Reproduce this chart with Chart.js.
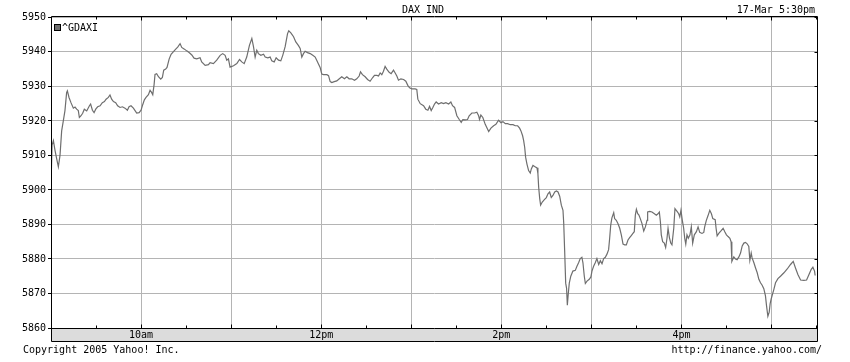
<!DOCTYPE html>
<html>
<head>
<meta charset="utf-8">
<title>DAX IND</title>
<script src="https://cdn.jsdelivr.net/npm/chart.js@4.4.1/dist/chart.umd.min.js"></script>
<style>
  body { margin: 0; background: #fff; }
  canvas { display: block; }
</style>
</head>
<body>
<canvas id="dax" width="850" height="362"></canvas>
<script>
// minutes after 9:00 and the index level at that time
var minutes = [
  0, 0.7, 1.6, 2.7, 3.8, 4.9, 6, 7.1, 8.2, 9.3, 10.4, 10.9, 12, 13.3, 14.9, 16, 17.1, 18.2, 18.9, 20,
  21.1, 22.2, 23.8, 25.6, 26.4, 27.6, 28.7, 29.8, 31.1, 32.7, 34.2, 35.6, 36.7, 38.2, 39.3, 40.4, 41.6, 43.1, 44.4, 46,
  47.6, 49.3, 50.9, 52, 53.3, 54.9, 56, 57.1, 58.7, 60, 61.1, 62.2, 63.3, 64.9, 66, 67.1, 67.8, 68.7, 69.3, 70.4,
  71.6, 73.1, 74.2, 75.1, 76.4, 77.3, 78.7, 80, 81.6, 83.1, 84.4, 86, 87.1, 88.9, 90.4, 92, 93.8, 95.3, 97.1, 99.3,
  100.4, 102.7, 104.9, 106, 108.2, 110.4, 112.7, 114.4, 116, 117.1, 118.2, 119.3, 121.6, 123.8, 125.6, 127.1, 128.7, 130.4, 132.2, 133.8,
  134.9, 136, 137.1, 138.2, 139.8, 141.6, 142.7, 144.4, 146, 147.1, 148.7, 150, 151.6, 153.1, 154.4, 156, 157.6, 158.4, 159.8, 161.6,
  163.1, 164.9, 166, 167.1, 168.2, 169.3, 170.9, 172.7, 174.4, 176, 177.1, 178.2, 179.3, 180.4, 181.6, 183.8, 184.9, 186, 187.1, 188.7,
  190.4, 191.5, 193.7, 195.5, 197.1, 198.6, 200.4, 202.2, 203.7, 205.3, 206.2, 207.5, 209.3, 210.9, 212.6, 214.2, 215.5, 217.1, 218.2, 219.3,
  220.4, 221.5, 222.6, 223.7, 225.3, 226.6, 228.2, 229.3, 230.4, 231.5, 233.1, 234.9, 236.4, 237.7, 238.9, 240.4, 242.6, 243.7, 244.4, 246,
  248.2, 249.7, 251.1, 252.2, 253.3, 254.4, 255.5, 256.6, 258.2, 260, 261.5, 263.1, 264.9, 266.4, 267.5, 268.9, 270.4, 272, 273.3, 274.4,
  276, 277.5, 278.6, 280.4, 282.2, 283.7, 284.9, 285.5, 286.4, 287.7, 289.3, 291.6, 293.1, 294.9, 296.4, 298.2, 299.8, 301.1, 302.7, 304.2,
  306, 307.8, 309.3, 310.9, 312.2, 313.1, 314.2, 314.9, 315.6, 316.2, 317.1, 318.2, 319.3, 320, 321.1, 322.2, 323.8, 324.4, 324.9, 325.6,
  326.2, 327.3, 328.7, 330, 331.1, 332.2, 333.3, 334.4, 335.6, 336.7, 337.8, 338.9, 340, 341.1, 341.6, 342.2, 342.9, 343.5, 344, 344.6,
  345.3, 346.3, 347.7, 349.3, 350.4, 351.5, 352.6, 353.7, 354.4, 355.3, 356, 357.1, 358.6, 359.7, 360.4, 361.5, 362.6, 363.7, 364.9, 366,
  367.1, 368.2, 369.3, 370.4, 371.5, 372.2, 372.9, 373.7, 374.9, 375.5, 376.6, 377.7, 378.9, 380, 381.1, 382.2, 383.3, 384.4, 385.5, 386.6,
  387.7, 388.6, 389.3, 390, 390.9, 391.7, 392.6, 393.7, 394.9, 396, 397.1, 397.5, 398.9, 400.4, 402, 403.3, 404.4, 405.3, 406, 406.6,
  407.5, 408.6, 409.5, 410.4, 411.1, 412, 412.9, 413.7, 414.9, 415.7, 417.1, 418.2, 418.9, 419.7, 420.6, 421.5, 422.2, 422.9, 423.7, 424.6,
  425.7, 426.6, 427.5, 428.6, 430, 431.1, 432.2, 433.7, 434.9, 435.5, 436.6, 437.7, 438.9, 440, 440.9, 442.5, 443.1, 443.8, 444.9, 446.5,
  447.8, 448.9, 450, 451.1, 452.3, 453.1, 453.6, 454.9, 456, 457.1, 458.3, 459.4, 460.5, 461.6, 462.7, 463.8, 464.9, 465.6, 466.5, 467.1,
  468.3, 469.4, 470.5, 471.6, 472.7, 473.8, 474.9, 476, 476.7, 477.6, 478.5, 479.1, 479.8, 480.7, 481.6, 482.7, 484.3, 486, 488.3, 490.5,
  492.7, 494.5, 496, 497.6, 499.4, 501.6, 503.4, 505, 506.5, 507.6, 508.7, 509.1
];
var prices = [
  5901, 5913, 5914.3, 5911.4, 5909, 5906.7, 5910, 5917.1, 5920, 5923, 5928.2, 5928.7, 5926.8, 5925.3, 5923.7, 5924, 5923.4, 5923, 5921, 5921.5,
  5922.2, 5923.4, 5922.9, 5924.4, 5924.9, 5923.1, 5922.4, 5923.4, 5924.1, 5924.4, 5925.3, 5925.6, 5926.3, 5926.8, 5927.5, 5926.3, 5925.6, 5925.3, 5924.4, 5923.9,
  5924.1, 5923.7, 5923.1, 5924.1, 5924.4, 5923.7, 5923, 5922.3, 5922.4, 5923.1, 5924.7, 5926.1, 5926.8, 5927.6, 5928.9, 5928.2, 5927.6, 5930.6, 5933.5, 5933.7,
  5932.8, 5932.1, 5932.6, 5934.7, 5935, 5935.5, 5937.9, 5939.3, 5940.1, 5940.8, 5941.4, 5942.4, 5941.3, 5940.8, 5940.3, 5939.8, 5939.1, 5938.2, 5938, 5938.3,
  5937.1, 5936.1, 5936.3, 5936.9, 5936.6, 5937.6, 5939, 5939.5, 5939, 5937.6, 5938, 5935.6, 5936, 5936.6, 5937.8, 5937.1, 5936.6, 5938.5, 5941.9, 5943.9,
  5941.5, 5938.5, 5940.5, 5939.5, 5939, 5939.3, 5938.5, 5938.3, 5938.5, 5937.4, 5937.1, 5938.3, 5937.6, 5937.4, 5939, 5941.5, 5945.3, 5946.1, 5945.5, 5944.4,
  5942.9, 5941.8, 5941, 5938.5, 5939.5, 5940.2, 5939.8, 5939.5, 5939, 5938.5, 5937.5, 5936.5, 5935.5, 5933.6, 5933.4, 5933.4, 5933.1, 5931.4, 5931.1, 5931.4,
  5931.6, 5932, 5932.8, 5932.2, 5932.8, 5932.2, 5932.2, 5931.8, 5932.2, 5933, 5934.2, 5933.4, 5932.8, 5932, 5931.5, 5932.5, 5933.2, 5933.2, 5933, 5933.9,
  5933.4, 5934.4, 5935.8, 5935, 5934.1, 5933.7, 5934.7, 5933.9, 5933, 5931.8, 5932.2, 5932, 5931.5, 5930.3, 5929.6, 5929.3, 5929.3, 5929.1, 5926.3, 5925,
  5924.4, 5923.4, 5923.1, 5924.2, 5923, 5923.9, 5924.9, 5925.5, 5924.9, 5925.3, 5925, 5925.3, 5924.9, 5925.5, 5924.4, 5923.9, 5921.5, 5920.4, 5919.6, 5920.4,
  5920.3, 5920.4, 5921.5, 5922.3, 5922.3, 5922.5, 5921.5, 5920.4, 5921.7, 5921, 5919, 5916.9, 5917.9, 5918.6, 5919, 5920.2, 5919.5, 5919.8, 5919.2, 5919.2,
  5918.9, 5918.9, 5918.6, 5918.6, 5917.9, 5917.1, 5915.7, 5914.3, 5912.3, 5909.5, 5907.5, 5905.6, 5904.9, 5906.1, 5907.1, 5906.8, 5906.4, 5904.7, 5900.8, 5897.5,
  5895.6, 5896.5, 5897.2, 5897.8, 5898.9, 5899.4, 5897.8, 5898.4, 5899.4, 5899.7, 5899.4, 5898.2, 5895.6, 5894.1, 5890.3, 5882.6, 5873, 5871.5, 5866.6, 5869.8,
  5873, 5875, 5876.5, 5876.7, 5877.9, 5878.9, 5880.1, 5880.5, 5878.9, 5875, 5872.9, 5873.6, 5874.1, 5874.8, 5876.5, 5877.9, 5878.9, 5880.1, 5878.4, 5879.5,
  5878.6, 5880.1, 5880.5, 5881.4, 5882.7, 5886, 5889.8, 5891.9, 5893.4, 5891.7, 5891.2, 5890.3, 5888.9, 5886.9, 5884.3, 5884.1, 5884.1, 5885.5, 5886.2, 5886.8,
  5887.4, 5887.9, 5892.7, 5894.4, 5893.1, 5892.7, 5891.7, 5890.3, 5888.1, 5889.3, 5891.2, 5893.6, 5893.8, 5893.6, 5893.1, 5892.7, 5893.1, 5893.6, 5890.8, 5887,
  5885, 5884.6, 5883.3, 5886, 5888.9, 5886.2, 5884.6, 5884.1, 5888.9, 5894.6, 5893.8, 5893.1, 5892.2, 5894.1, 5891.2, 5888.9, 5886, 5884.3, 5887, 5886,
  5887, 5889.3, 5884.6, 5887, 5887.9, 5889.3, 5887.7, 5887.4, 5887.7, 5889.3, 5891.2, 5892.5, 5894.1, 5893.1, 5891.7, 5891.4, 5888.9, 5886.7, 5887.4, 5888.2,
  5888.9, 5887.9, 5887, 5886.5, 5886, 5885, 5879.3, 5880.6, 5880, 5879.8, 5880.6, 5881.7, 5883.8, 5884.6, 5884.8, 5884.4, 5883.6, 5879.6, 5881.7, 5880.3,
  5878.9, 5877.4, 5876, 5874.1, 5873.1, 5872.4, 5871.4, 5869.3, 5866.5, 5863.4, 5864.6, 5867, 5868.4, 5869.8, 5871.2, 5873.1, 5874.3, 5875, 5876, 5877.1,
  5878.4, 5879.3, 5877.4, 5875.5, 5873.9, 5873.8, 5873.9, 5875.5, 5877, 5877.6, 5876.5, 5875.2
];

// axis ticks
var yTicks = [5860, 5870, 5880, 5890, 5900, 5910, 5920, 5930, 5940, 5950];
var xTicks = [30, 60, 90, 120, 150, 180, 210, 240, 270, 300, 330, 360, 390, 420, 450, 480, 510];
var xLabelAt = [60, 180, 300, 420];
var xLabels = ['10am', '12pm', '2pm', '4pm'];

var FONT = 'DejaVu Sans Mono';
var GRID = '#b4b4b4';

// frame, ticks inside the frame, grey label band, legend and the small texts
var yahooFrame = {
  id: 'yahooFrame',
  beforeDraw: function(chart) {
    var c = chart.ctx, a = chart.chartArea;
    c.save();
    c.fillStyle = '#fff';
    c.fillRect(0, 0, chart.width, chart.height);
    c.fillStyle = '#dcdcdc';
    c.fillRect(a.left, a.bottom, a.right - a.left, 13);
    c.restore();
  },
  afterDraw: function(chart) {
    var c = chart.ctx, a = chart.chartArea;
    var xs = chart.scales.x, ys = chart.scales.y;
    var L = Math.round(a.left) + 0.5, R = Math.round(a.right) - 0.5;
    var T = Math.round(a.top) + 0.5, B = Math.round(a.bottom) + 0.5;
    c.save();
    c.strokeStyle = '#000';
    c.lineWidth = 1;
    c.beginPath();
    c.moveTo(L, T); c.lineTo(R, T);
    c.moveTo(R, T); c.lineTo(R, B + 13);
    c.moveTo(L, T); c.lineTo(L, B + 13);
    c.moveTo(L, B); c.lineTo(R, B);
    c.moveTo(L, B + 13); c.lineTo(R, B + 13);
    xTicks.forEach(function(v) {
      var px = Math.round(xs.getPixelForValue(v)) + 0.5;
      var len = v % 60 === 0 ? 4 : 3;
      c.moveTo(px, T); c.lineTo(px, T + len);
      c.moveTo(px, B); c.lineTo(px, B - len);
    });
    yTicks.forEach(function(v) {
      var py = Math.round(ys.getPixelForValue(v)) + 0.5;
      c.moveTo(R, py); c.lineTo(R - 3, py);
    });
    c.stroke();

    // legend inside the plot
    var ds = chart.data.datasets[0];
    c.fillStyle = ds.borderColor;
    c.fillRect(55, 25, 5, 5);
    c.strokeRect(54.5, 24.5, 6, 6);
    c.fillStyle = '#000';
    c.font = '10px ' + FONT;
    c.textBaseline = 'middle';
    c.textAlign = 'left';
    c.fillText(ds.label, 62, 28);

    c.textBaseline = 'alphabetic';
    c.textAlign = 'center';
    c.fillText('DAX IND', 423, 13);
    c.textAlign = 'right';
    c.fillText('17-Mar 5:30pm', 815, 13);
    c.textAlign = 'left';
    c.fillText('Copyright 2005 Yahoo! Inc.', 23, 353);
    c.textAlign = 'right';
    c.fillText('http://finance.yahoo.com/', 822, 353);
    c.restore();
  }
};

var ctx = document.getElementById('dax');

var chart = new Chart(ctx, {
  type: 'line',
  data: {
    datasets: [{
      label: '^GDAXI',
      data: minutes.map(function(m, i) { return { x: m, y: prices[i] }; }),
      borderColor: '#6e6e6e',
      backgroundColor: '#6e6e6e',
      borderWidth: 1.2,
      pointRadius: 0,
      tension: 0,
      fill: false
    }]
  },
  options: {
    responsive: false,
    animation: false,
    devicePixelRatio: 1,
    layout: { padding: { top: 16, right: 32, left: 0, bottom: 0 } },
    plugins: {
      legend: { display: false },
      tooltip: { enabled: false },
      title: { display: false }
    },
    scales: {
      x: {
        type: 'linear',
        min: 0,
        max: 511,
        afterFit: function(scale) { scale.height = 34; },
        afterBuildTicks: function(scale) {
          scale.ticks = xTicks.map(function(v) { return { value: v }; });
        },
        grid: {
          drawTicks: false,
          color: function(c) { return c.tick && c.tick.value % 60 === 0 ? GRID : 'rgba(0,0,0,0)'; }
        },
        border: { display: false },
        ticks: {
          autoSkip: false,
          maxRotation: 0,
          padding: 1,
          color: '#000',
          font: { family: FONT, size: 10 },
          callback: function(v) {
            var i = xLabelAt.indexOf(v);
            return i >= 0 ? xLabels[i] : '';
          }
        }
      },
      y: {
        min: 5860,
        max: 5950.4,
        afterFit: function(scale) { scale.width = 51; },
        afterBuildTicks: function(scale) {
          scale.ticks = yTicks.map(function(v) { return { value: v }; });
        },
        grid: {
          color: GRID,
          tickColor: '#000',
          tickLength: 3
        },
        border: { display: false },
        ticks: {
          padding: 2,
          color: '#000',
          font: { family: FONT, size: 10 },
          callback: function(v) { return String(v); }
        }
      }
    }
  },
  plugins: [yahooFrame]
});
</script>
</body>
</html>
